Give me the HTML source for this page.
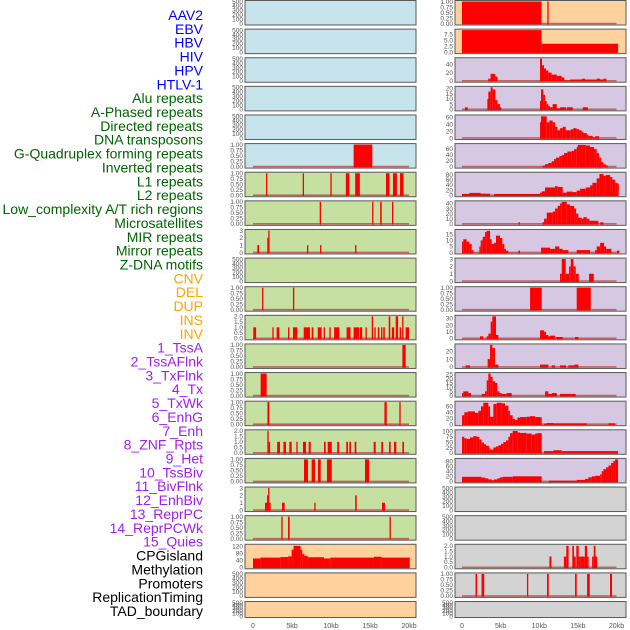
<!DOCTYPE html>
<html><head><meta charset="utf-8"><style>
html,body{margin:0;padding:0;background:#fff;}
svg{display:block;font-family:"Liberation Sans",sans-serif;}
</style></head><body>
<svg id="chart" width="630" height="630" viewBox="0 0 630 630"></svg>
<script>
const labels = ["AAV2","EBV","HBV","HIV","HPV","HTLV-1","Alu repeats","A-Phased repeats","Directed repeats","DNA transposons","G-Quadruplex forming repeats","Inverted repeats","L1 repeats","L2 repeats","Low_complexity A/T rich regions","Microsatellites","MIR repeats","Mirror repeats","Z-DNA motifs","CNV","DEL","DUP","INS","INV","1_TssA","2_TssAFlnk","3_TxFlnk","4_Tx","5_TxWk","6_EnhG","7_Enh","8_ZNF_Rpts","9_Het","10_TssBiv","11_BivFlnk","12_EnhBiv","13_ReprPC","14_ReprPCWk","15_Quies","CPGisland","Methylation","Promoters","ReplicationTiming","TAD_boundary"];
const labelGroups = ["virus","virus","virus","virus","virus","virus","repeat","repeat","repeat","repeat","repeat","repeat","repeat","repeat","repeat","repeat","repeat","repeat","repeat","sv","sv","sv","sv","sv","chrom","chrom","chrom","chrom","chrom","chrom","chrom","chrom","chrom","chrom","chrom","chrom","chrom","chrom","chrom","other","other","other","other","other"];
const xTickValues = [0,5,10,15,20];
const xTickLabels = ["0","5kb","10kb","15kb","20kb"];

const ticksEmpty = ["0","100","200","300","400","500"];
const ticksUnit = ["0.00","0.25","0.50","0.75","1.00"];
const ticksTwo = ["0.0","0.5","1.0","1.5","2.0"];
const ticksThree = ["0","1","2","3"];

// segments: [startKb, endKb, value]
const segL5 = [[12.9,15.3,1]];
const segL6 = [[1.67,1.84,1],[6.37,6.54,1],[9.92,10.09,1],[11.9,12.35,1],[13.1,13.7,1],[17.05,17.5,1],[17.95,18.45,1],[18.85,19.3,1]];
const segL7 = [[8.55,8.72,1],[15.27,15.44,1],[16.3,16.5,1],[17.82,17.99,1]];
const segL8 = [[0.55,0.8,1],[1.83,1.96,2],[1.96,2.1,3],[6.92,7.09,1],[8.6,8.77,1],[13.09,13.26,1]];
const segL10 = [[1.16,1.33,1],[5.12,5.29,1]];
const segL11 = [[0.04,0.4,1],[2.48,2.65,1],[3.03,3.38,1],[4.49,4.66,1],[5.13,5.68,1],[6.5,7.3,1],[7.52,7.74,1],[8.3,8.8,1],[9.06,9.23,1],[9.79,9.96,1],[10.4,11.07,1],[12.0,12.5,1],[12.9,13.6,1],[13.7,14.0,1],[14.42,14.59,1],[15.22,15.39,2],[15.56,15.73,1],[16.0,16.2,1],[16.42,16.59,1],[16.7,16.9,1],[17.4,17.6,2],[17.8,18.1,1],[18.3,18.6,2],[18.8,19.0,1],[19.12,19.29,2],[19.57,20.0,1]];
const segL12 = [[19.15,19.58,1]];
const segL13 = [[0.98,1.75,1]];
const segL14 = [[1.85,2.1,1],[16.85,17.15,1],[18.76,18.93,1]];
const segL15 = [[1.84,2.0,2],[2.0,2.2,1],[3.1,3.46,1],[3.9,4.23,1],[4.66,4.96,1],[5.56,5.73,1],[6.41,6.8,1],[7.14,7.4,1],[9.1,9.32,1],[9.58,10.1,1],[10.8,11.03,1],[11.96,12.18,1],[12.35,12.56,1],[13.03,13.25,1],[15.47,15.73,1],[16.45,16.67,1],[17.44,17.65,1],[18.08,18.37,1],[19.15,19.36,1]];
const segL16 = [[6.54,7.05,1],[7.52,7.95,1],[8.33,8.68,1],[9.49,10.1,1],[14.36,14.87,1]];
const segL17 = [[1.54,1.8,1],[1.8,1.94,2],[1.94,2.1,3],[2.1,2.26,1],[3.72,4.06,1],[7.86,8.03,1],[13.1,13.3,2],[16.54,16.92,1]];
const segL18 = [[3.63,3.8,1],[4.49,4.7,1],[17.5,17.67,1]];
const segL19 = [[0,0.95,50],[0.95,3.5,55],[3.5,4.5,58],[4.5,4.95,62],[4.95,5.2,100],[5.2,6.1,122],[6.1,6.3,100],[6.3,6.6,75],[6.6,7.0,65],[7.0,9.1,57],[9.1,9.9,50],[9.9,15.5,55],[15.5,16.5,60],[16.5,20.1,55]];

const segR0 = [[0,10.3,1],[11.05,11.2,1]];
const segR1 = [[0,10.3,9.2],[10.3,20.2,3.5]];
const segR2 = [[3.4,3.7,5],[3.7,4.3,17],[4.3,4.6,10],[10.1,10.36,54],[10.36,10.62,38],[10.62,10.88,30],[10.88,11.18,25],[11.18,11.6,20],[11.6,12.27,15],[12.27,12.9,12],[12.9,13.25,8],[13.25,14,1],[14,15.5,3],[15.5,15.93,5],[15.93,17.45,3],[17.45,17.9,5],[17.9,18.3,3],[18.3,18.7,5]];
const segR3 = [[0.39,0.73,2],[3.28,3.41,10],[3.41,3.71,17],[3.71,3.97,21],[3.97,4.32,19],[4.32,4.58,9],[4.58,4.92,5],[4.92,5.05,2],[10.1,10.23,8],[10.23,10.53,19],[10.53,10.75,14],[10.75,10.97,8],[10.97,11.18,5],[11.18,11.4,3],[11.4,11.74,2],[11.74,12.27,5],[12.27,12.7,1],[12.7,13.47,2],[13.56,14.34,2],[15.64,16.3,2]];
const segR4 = [[10.1,10.23,45],[10.23,10.97,62],[10.97,11.31,45],[11.31,11.74,50],[11.74,12.05,45],[12.05,12.35,32],[12.35,12.69,22],[12.69,13.04,28],[13.04,13.43,32],[13.43,14.08,22],[14.08,14.42,25],[14.42,14.85,28],[14.85,15.2,25],[15.2,15.5,22],[15.5,15.72,18],[15.72,16.15,14],[16.15,16.36,10],[16.36,16.93,6],[16.93,17.23,2],[17.23,17.75,5]];
const segR5 = [[10.41,10.75,3],[10.75,11.18,8],[11.18,11.61,12],[11.61,11.92,18],[11.92,12.18,25],[12.18,12.61,30],[12.61,12.91,35],[12.91,13.21,38],[13.21,13.64,45],[13.64,14.21,50],[14.21,14.51,52],[14.51,14.85,58],[14.85,14.98,65],[14.98,16.02,72],[16.02,16.58,70],[16.58,17.1,65],[17.1,17.44,58],[17.44,17.75,45],[17.75,18.0,30],[18.0,18.3,15],[18.3,18.6,8],[18.6,18.87,4]];
const segR6 = [[0,0.95,5],[0.95,2.42,9],[2.42,3.63,6],[4.15,10.1,5],[10.1,10.32,10],[10.32,10.75,15],[10.75,12.05,30],[12.05,12.39,35],[12.39,13.04,32],[13.04,13.56,10],[13.56,14.34,14],[14.34,14.85,12],[14.85,15.28,18],[15.28,16.02,25],[16.02,16.58,30],[16.58,16.88,38],[16.88,17.44,48],[17.44,17.79,65],[17.79,18.31,82],[18.31,18.61,75],[18.61,19.17,78],[19.17,19.47,70],[19.47,19.82,60],[19.82,20.1,48],[20.1,20.3,45]];
const segR7 = [[7.3,7.5,3],[10.41,10.62,3],[10.62,10.97,10],[10.97,11.74,22],[11.74,12.05,24],[12.05,12.39,30],[12.39,12.69,35],[12.69,12.91,40],[12.91,13.56,43],[13.56,13.99,38],[13.99,14.51,35],[14.51,14.77,30],[14.77,15.07,20],[15.07,15.5,12],[15.5,15.72,10],[15.72,16.15,13],[16.15,16.49,10],[16.49,17.66,6],[17.88,18.31,3]];
const segR8 = [[0,0.17,9],[0.17,0.6,11],[0.6,0.95,9],[0.95,1.25,7],[1.25,1.47,2],[2.25,2.42,5],[2.42,2.68,10],[2.68,2.98,13],[2.98,3.2,17],[3.2,3.63,18],[3.63,3.84,11],[3.84,4.15,7],[4.15,4.4,8],[4.4,4.92,14],[4.92,5.22,12],[5.22,5.48,7],[5.48,5.7,3],[5.7,6.0,1.5],[7.3,7.51,1.5],[10.23,11.4,4],[11.4,12.05,3],[12.05,12.61,5],[12.61,13.04,3],[13.04,13.77,2],[14.85,16.58,2],[17.23,17.44,2],[17.44,17.88,5],[17.88,18.39,8],[18.39,18.65,5],[18.65,19.34,3],[20.04,20.38,1.5]];
const segR9 = [[12.69,12.91,1],[12.91,13.43,3],[13.43,13.86,1],[13.86,14.08,2],[14.08,14.42,3],[14.42,14.72,2],[14.72,15.11,1],[16.45,17.06,1]];
const segR10 = [[8.81,10.32,1],[14.85,16.67,1]];
const segR11 = [[2.33,2.76,3],[3.2,3.41,3],[3.41,3.71,7],[3.71,3.93,25],[3.93,4.4,33],[4.4,4.71,5],[10.1,10.62,12],[10.62,10.88,10],[10.88,11.18,5],[11.18,11.4,3],[11.4,12.05,4],[12.18,13.04,2],[14.64,15.07,2]];
const segR12 = [[0.47,1.04,2],[3.32,3.63,10],[3.63,3.93,28],[3.93,4.27,24],[4.27,4.71,3],[10.1,11.18,3],[11.61,12.05,2],[12.69,13.47,2],[13.77,14.55,2],[14.55,15.07,3]];
const segR13 = [[0,0.17,3],[0.17,0.82,5],[0.82,1.17,3],[2.55,2.98,2],[2.98,3.2,5],[3.2,3.41,18],[3.41,3.71,26],[3.71,3.97,22],[3.97,4.27,17],[4.27,4.58,15],[4.58,4.84,5],[4.84,5.14,3],[5.14,5.79,2],[5.79,6.43,3],[10.75,11.18,5],[11.18,11.61,2],[11.61,12.27,3],[12.69,14.21,2],[14.21,14.72,2]];
const segR14 = [[0,0.3,30],[0.3,0.73,40],[0.73,1.68,43],[1.68,2.12,38],[2.12,2.46,45],[2.46,2.76,60],[2.76,3.41,72],[3.41,3.63,60],[3.63,4.06,25],[4.06,4.49,68],[4.49,5.14,72],[5.14,5.57,70],[5.57,6.0,62],[6.0,6.22,45],[6.22,6.56,30],[6.56,6.87,18],[6.87,7.17,14],[7.17,7.51,22],[7.51,8.38,24],[8.38,8.81,25],[8.81,9.46,27],[9.46,10.1,24],[10.1,10.32,23],[10.62,10.97,2],[10.97,11.83,4],[11.83,16.15,3],[18.96,19.82,3]];
const segR15 = [[0,0.3,75],[0.3,0.6,68],[0.6,1.04,65],[1.04,1.47,72],[1.47,1.9,78],[1.9,2.25,75],[2.25,2.55,62],[2.55,2.85,48],[2.85,3.11,40],[3.11,3.5,33],[3.5,3.71,20],[3.71,4.06,15],[4.06,4.4,25],[4.4,4.71,30],[4.71,5.05,35],[5.05,5.35,42],[5.35,5.7,50],[5.7,6.0,58],[6.0,6.22,75],[6.22,6.56,92],[6.56,7.21,102],[7.21,7.51,95],[7.51,8.38,93],[8.38,9.02,90],[9.02,9.46,85],[9.46,9.76,90],[9.76,10.32,92],[10.62,11.83,8],[11.83,12.91,12],[12.91,20.2,8]];
const segR16 = [[0,2.55,18],[2.55,2.98,15],[2.98,3.41,12],[3.41,3.84,8],[3.84,4.15,5],[4.15,4.58,8],[4.58,4.92,12],[4.92,5.27,16],[5.27,6.56,18],[6.56,10.32,20],[11.27,14.85,3],[14.85,15.93,6],[15.93,16.36,10],[16.36,16.8,16],[16.8,17.23,20],[17.23,17.88,22],[17.88,18.09,28],[18.09,18.31,40],[18.31,18.65,48],[18.65,18.96,55],[18.96,19.3,62],[19.3,19.6,72],[19.6,19.82,80],[19.82,20.2,86]];
const segR19 = [[11.32,11.58,1],[13.19,13.5,1],[13.5,13.8,2],[14.28,14.5,2],[14.5,14.72,1],[14.8,15.1,2],[15.1,15.32,1],[15.32,15.9,1],[15.9,16.19,2],[16.19,16.4,1],[16.84,17.06,1],[17.06,17.28,2],[17.28,17.5,1]];
const segR20 = [[1.75,1.96,1],[2.53,2.88,1],[8.41,8.58,1],[11.0,11.23,1],[14.63,14.85,1],[16.19,16.54,1],[19.16,19.42,1]];

const BLUE="#c7e4ec", GREEN="#c6e0a2", PEACH="#ffd19d", LAV="#d6c7e2", GRAY="#d3d3d3";
const panels = [
 // left column
 {c:0,r:0,bg:BLUE,t:ticksEmpty,m:500,s:null},{c:0,r:1,bg:BLUE,t:ticksEmpty,m:500,s:null},
 {c:0,r:2,bg:BLUE,t:ticksEmpty,m:500,s:null},{c:0,r:3,bg:BLUE,t:ticksEmpty,m:500,s:null},
 {c:0,r:4,bg:BLUE,t:ticksEmpty,m:500,s:null},{c:0,r:5,bg:BLUE,t:ticksUnit,m:1,s:segL5},
 {c:0,r:6,bg:GREEN,t:ticksUnit,m:1,s:segL6},{c:0,r:7,bg:GREEN,t:ticksUnit,m:1,s:segL7},
 {c:0,r:8,bg:GREEN,t:ticksThree,m:3,s:segL8},{c:0,r:9,bg:GREEN,t:ticksEmpty,m:500,s:null},
 {c:0,r:10,bg:GREEN,t:ticksUnit,m:1,s:segL10},{c:0,r:11,bg:GREEN,t:ticksTwo,m:2,s:segL11},
 {c:0,r:12,bg:GREEN,t:ticksUnit,m:1,s:segL12},{c:0,r:13,bg:GREEN,t:ticksUnit,m:1,s:segL13},
 {c:0,r:14,bg:GREEN,t:ticksUnit,m:1,s:segL14},{c:0,r:15,bg:GREEN,t:ticksTwo,m:2,s:segL15},
 {c:0,r:16,bg:GREEN,t:ticksUnit,m:1,s:segL16},{c:0,r:17,bg:GREEN,t:ticksThree,m:3,s:segL17},
 {c:0,r:18,bg:GREEN,t:ticksUnit,m:1,s:segL18},{c:0,r:19,bg:PEACH,t:["0","40","80","120"],m:125,s:segL19},
 {c:0,r:20,bg:PEACH,t:ticksEmpty,m:500,s:null},{c:0,r:21,bg:PEACH,t:ticksEmpty,m:500,s:null},
 // right column
 {c:1,r:0,bg:PEACH,t:ticksUnit,m:1,s:segR0},{c:1,r:1,bg:PEACH,t:["0.0","2.5","5.0","7.5"],m:9.2,s:segR1},
 {c:1,r:2,bg:LAV,t:["0","20","40"],m:54,s:segR2},{c:1,r:3,bg:LAV,t:["0","5","10","15","20"],m:21,s:segR3},
 {c:1,r:4,bg:LAV,t:["0","20","40","60"],m:63,s:segR4},{c:1,r:5,bg:LAV,t:["0","20","40","60"],m:73,s:segR5},
 {c:1,r:6,bg:LAV,t:["0","20","40","60","80"],m:85,s:segR6},{c:1,r:7,bg:LAV,t:["0","10","20","30","40"],m:43,s:segR7},
 {c:1,r:8,bg:LAV,t:["0","5","10","15"],m:18.3,s:segR8},{c:1,r:9,bg:LAV,t:ticksThree,m:3,s:segR9},
 {c:1,r:10,bg:LAV,t:ticksUnit,m:1,s:segR10},{c:1,r:11,bg:LAV,t:["0","10","20","30"],m:33,s:segR11},
 {c:1,r:12,bg:LAV,t:["0","10","20"],m:28,s:segR12},{c:1,r:13,bg:LAV,t:["0","5","10","15","20","25"],m:26,s:segR13},
 {c:1,r:14,bg:LAV,t:["0","20","40","60"],m:74,s:segR14},{c:1,r:15,bg:LAV,t:["0","25","50","75","100"],m:103,s:segR15},
 {c:1,r:16,bg:LAV,t:["0","20","40","60","80"],m:86,s:segR16},{c:1,r:17,bg:GRAY,t:ticksEmpty,m:500,s:null},
 {c:1,r:18,bg:GRAY,t:ticksEmpty,m:500,s:null},{c:1,r:19,bg:GRAY,t:ticksTwo,m:2.05,s:segR19},
 {c:1,r:20,bg:GRAY,t:ticksUnit,m:1,s:segR20},{c:1,r:21,bg:GRAY,t:ticksEmpty,m:500,s:null}
];

const NS="http://www.w3.org/2000/svg";
const svg=document.getElementById("chart");
function mk(tag,attrs,parent){const e=document.createElementNS(NS,tag);for(const k in attrs)e.setAttribute(k,attrs[k]);(parent||svg).appendChild(e);return e;}
const colX=[{left:245,right:416,x0:253,x20:409},{left:455,right:626,x0:462,x20:616.5}];
function xScale(c,kb){const g=colX[c];return g.x0+(g.x20-g.x0)*kb/20;}
function rowTop(r){return 0.5+28.62*r;}
function rowH(r){return r===21?16:24.5;}
function yScale(p,v){const top=rowTop(p.r),h=rowH(p.r);return top+h-1.5-(v/p.m)*(h-2.5);}

const groupColor={virus:"#0000ff",repeat:"#006400",sv:"#ffa500",chrom:"#a020f0",other:"#000000"};
labels.forEach((name,i)=>{
  const t=mk("text",{x:203,y:20+i*13.86,"text-anchor":"end","font-size":"14",fill:groupColor[labelGroups[i]]});
  
  
  t.textContent=name;
});

panels.forEach((p,idx)=>{
  const g=colX[p.c], top=rowTop(p.r), h=rowH(p.r);
  const grp=mk("g",{});
  
  
  const bg=mk("rect",{x:g.left,y:top,width:g.right-g.left,height:h,fill:p.bg},grp);
  
  
  if(p.s){
    const base=mk("line",{x1:xScale(p.c,0),x2:xScale(p.c,20),y1:yScale(p,0),y2:yScale(p,0),stroke:"#c0504d","stroke-width":1.6,"stroke-opacity":0.85},grp);
    
    
    p.s.forEach(sg=>{
      const x1=xScale(p.c,sg[0]),x2=xScale(p.c,sg[1]);
      const y=yScale(p,Math.min(sg[2],p.m*1.0));
      const b=mk("rect",{x:x1,y:Math.max(y,top+0.5),width:Math.max(x2-x1,1.3),height:yScale(p,0)+0.8-Math.max(y,top+0.5),fill:"#ff0000"},grp);
      
      
    });
  }
  const br=mk("rect",{x:g.left,y:top,width:g.right-g.left,height:h,fill:"none",stroke:"#5a5a5a","stroke-width":1},grp);
  
  
  p.t.forEach(lbl=>{
    const v=parseFloat(lbl);
    const tt=mk("text",{x:g.left-2,y:yScale(p,v)+2.3,"text-anchor":"end","font-size":"6.5",fill:"#555"},grp);
    
    
    tt.textContent=lbl;
  });
});

[0,1].forEach(c=>{
  xTickValues.forEach((v,i)=>{
    const t=mk("text",{x:xScale(c,v),y:628,"text-anchor":"middle","font-size":"7",fill:"#555"});
    
    
    t.textContent=xTickLabels[i];
  });
});
</script>
</body></html>
